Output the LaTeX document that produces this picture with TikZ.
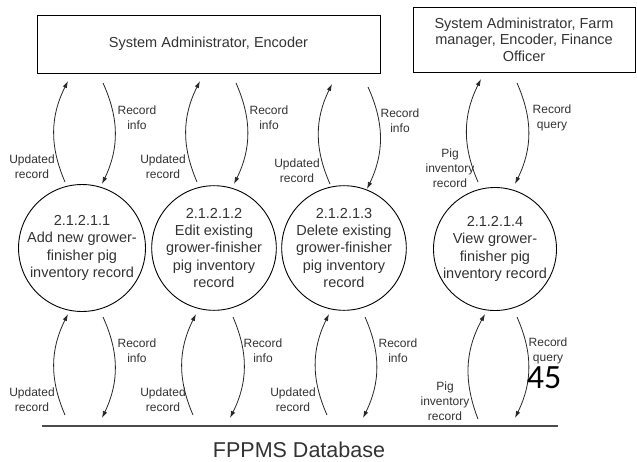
\documentclass[tikz,border=0pt]{standalone}
\usepackage{fontspec}
\setmainfont{Liberation Sans}
\newfontfamily\pagenumfont{Carlito}
\usetikzlibrary{arrows.meta}
\begin{document}
\begin{tikzpicture}[x=1pt,y=-1pt,
  every node/.style={text=black!80},
  entitybox/.style={draw, line width=0.9pt, rectangle, inner sep=0pt, align=center,
    font=\fontsize{14.5}{16.5}\selectfont},
  proc/.style={draw, line width=0.9pt, circle, minimum size=123pt, inner sep=0pt, align=center,
    font=\fontsize{14.5}{17.3}\selectfont},
  flowlabel/.style={align=center, inner sep=0pt, font=\fontsize{12}{15}\selectfont},
  flow/.style={draw=black!85, line width=0.8pt, -{Latex[length=7pt,width=4.5pt]}, bend left=25}
]
\useasboundingbox (0,0) rectangle (637,461);
\fill[white] (0,0) rectangle (637,461);

% external entities
\node[entitybox, minimum width=343pt, minimum height=58pt] (sa) at (208.5,44) {System Administrator, Encoder};
\node[entitybox, minimum width=222pt, minimum height=65pt] (sb) at (524,39.5) {System Administrator, Farm\\manager, Encoder, Finance\\Officer};

% processes
\node[proc] (p1) at (82,248) {2.1.2.1.1\\Add new grower-\\finisher pig\\inventory record};
\node[proc] (p2) at (214,248) {2.1.2.1.2\\Edit existing\\grower-finisher\\pig inventory\\record};
\node[proc] (p3) at (344,248) {2.1.2.1.3\\Delete existing\\grower-finisher\\pig inventory\\record};
\node[proc] (p4) at (495,249) {2.1.2.1.4\\View grower-\\finisher pig\\inventory record};

% data store
\coordinate (dbl) at (42,426);
\coordinate (dbr) at (558,426);
\draw[line width=1.1pt, draw=black!70] (dbl) -- (dbr);
\node[inner sep=0pt, font=\fontsize{21.5}{24}\selectfont] (db) at (299,450) {FPPMS Database};

% top flow end points
\coordinate (t1ua) at (65,182);  \coordinate (t1ub) at (68,81);
\coordinate (t1da) at (103,83);  \coordinate (t1db) at (102,184);
\coordinate (t2ua) at (197,182); \coordinate (t2ub) at (200,81);
\coordinate (t2da) at (236,83);  \coordinate (t2db) at (234,184);
\coordinate (t3ua) at (330,184); \coordinate (t3ub) at (332,84);
\coordinate (t3da) at (368,87);  \coordinate (t3db) at (367,189);
\coordinate (t4ua) at (478,182); \coordinate (t4ub) at (481,79);
\coordinate (t4da) at (517,83);  \coordinate (t4db) at (515,184);
% bottom flow end points
\coordinate (b1ua) at (65,415);  \coordinate (b1ub) at (68,314);
\coordinate (b1da) at (103,317); \coordinate (b1db) at (102,418);
\coordinate (b2ua) at (193,415); \coordinate (b2ub) at (196,314);
\coordinate (b2da) at (233,317); \coordinate (b2db) at (230,418);
\coordinate (b3ua) at (327,415); \coordinate (b3ub) at (329,314);
\coordinate (b3da) at (365,317); \coordinate (b3db) at (363,418);
\coordinate (b4ua) at (478,419); \coordinate (b4ub) at (485,314);
\coordinate (b4da) at (517,317); \coordinate (b4db) at (515,418);

\foreach \a in {t1u,t1d,t2u,t2d,t3u,t3d,t4u,t4d,b1u,b1d,b2u,b2d,b3u,b3d,b4u,b4d}
  \draw[flow] (\a a) to (\a b);

% labels top
\node[flowlabel] (l1) at (32,167) {Updated\\record};
\node[flowlabel] (l2) at (137,118) {Record\\info};
\node[flowlabel] (l3) at (163,167) {Updated\\record};
\node[flowlabel] (l4) at (269,118) {Record\\info};
\node[flowlabel] (l5) at (297,171) {Updated\\record};
\node[flowlabel] (l6) at (400,121) {Record\\info};
\node[flowlabel] (l7) at (450,168) {Pig\\inventory\\record};
\node[flowlabel] (l8) at (552,118) {Record\\query};
% labels bottom
\node[flowlabel] (m1) at (32,400) {Updated\\record};
\node[flowlabel] (m2) at (137,351) {Record\\info};
\node[flowlabel] (m3) at (163,400) {Updated\\record};
\node[flowlabel] (m4) at (263,351) {Record\\info};
\node[flowlabel] (m5) at (293,400) {Updated\\record};
\node[flowlabel] (m6) at (398,351) {Record\\info};
\node[flowlabel] (m7) at (445,401) {Pig\\inventory\\record};
\node[flowlabel] (m8) at (548,351) {Record\\query};

% page number
\node[inner sep=0pt, text=black, font=\pagenumfont\fontsize{34}{34}\selectfont] (pn) at (544,378) {45};
\end{tikzpicture}
\end{document}
